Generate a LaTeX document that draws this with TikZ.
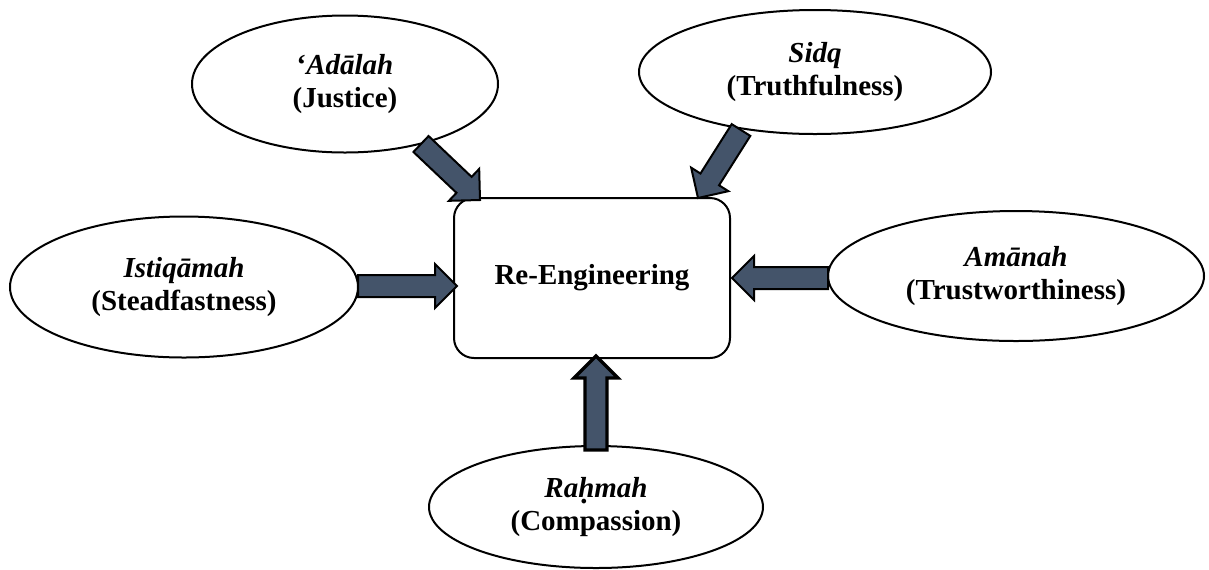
\documentclass[tikz,border=0pt]{standalone}
\usepackage{fontspec}
\setmainfont{Liberation Serif}
\usetikzlibrary{calc,shapes.geometric}
\definecolor{arrowfill}{HTML}{44546A}
\newcommand\dotbelow[1]{\leavevmode\setbox0\hbox{#1}\rlap{\hbox to\wd0{\hss\raisebox{-0.2em}[0pt][0pt]{\kern-0.1em.}\hss}}\box0}
\newcommand\blockarrow[3][]{%
 \draw[barrow,#1] ($(#2)!5.5pt!90:(#3)$) -- ($(#3)!11pt!(#2)!5.5pt!-90:(#2)$)
   -- ($(#3)!11pt!(#2)!11pt!-90:(#2)$) -- (#3)
   -- ($(#3)!11pt!(#2)!11pt!90:(#2)$) -- ($(#3)!11pt!(#2)!5.5pt!90:(#2)$)
   -- ($(#2)!5.5pt!-90:(#3)$) -- cycle;}
\begin{document}
\begin{tikzpicture}[x=0.5pt,y=-0.5pt,
  txt/.style={font=\fontsize{14.5pt}{16.5pt}\selectfont\bfseries},
  oval/.style={ellipse, draw, line width=1pt, inner sep=0pt, align=center, txt},
  mainbox/.style={rectangle, rounded corners=10pt, draw, line width=1pt,
    minimum width=138pt, minimum height=80pt, txt},
  barrow/.style={draw=black, fill=arrowfill, line width=1pt, line join=miter}]
\useasboundingbox (0,0) rectangle (1209,569);

\node[mainbox] (box) at (592,278) {Re-Engineering};

\node[oval, minimum width=153pt, minimum height=68.5pt] (adalah) at (345,84)
  {‘\textit{Adālah}\\(Justice)};
\node[oval, minimum width=176pt, minimum height=62pt] (sidq) at (815,72)
  {\textit{Sidq}\\(Truthfulness)};
\node[oval, minimum width=174pt, minimum height=70.5pt] (istiq) at (184,287)
  {\textit{Istiqāmah}\\(Steadfastness)};
\node[oval, minimum width=188pt, minimum height=65pt] (amanah) at (1016,276)
  {\textit{Amānah}\\(Trustworthiness)};
\node[oval, minimum width=167pt, minimum height=61pt] (rahmah) at (596,507)
  {\textit{Ra\dotbelow{h}mah}\\(Compassion)};

\coordinate (s1) at (358,286);  \coordinate (t1) at (457,286);
\coordinate (s2) at (828,278);  \coordinate (t2) at (732,278);
\coordinate (s3) at (596,450);  \coordinate (t3) at (596,356);
\coordinate (s4) at (421,144);  \coordinate (t4) at (480,200);
\coordinate (s5) at (741,130);  \coordinate (t5) at (698,198);

\blockarrow{s1}{t1}
\blockarrow{s2}{t2}
\blockarrow[line width=1.7pt]{s3}{t3}
\blockarrow{s4}{t4}
\blockarrow{s5}{t5}
\end{tikzpicture}
\end{document}
